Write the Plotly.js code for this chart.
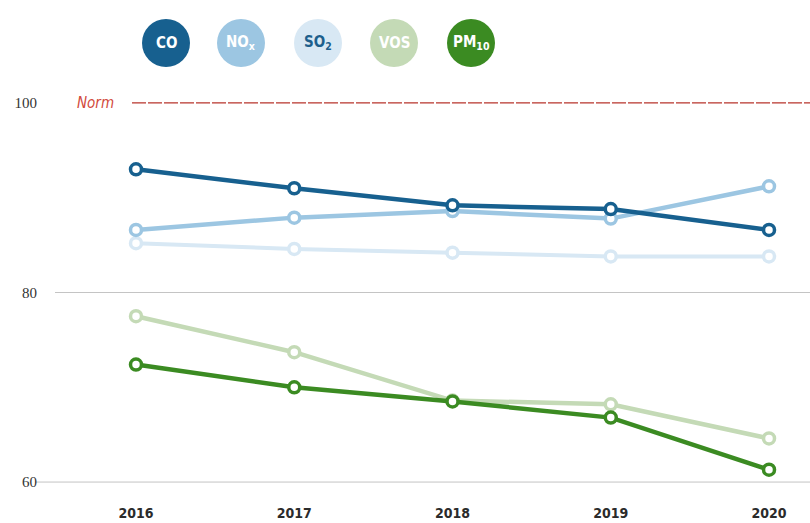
<!DOCTYPE html>
<html>
<head>
<meta charset="utf-8">
<script src="https://cdn.plot.ly/plotly-3.0.1.min.js"></script>
<style>html,body{margin:0;padding:0;background:#fff;}#chart{width:810px;height:523px;}</style>
</head>
<body>
<div id="chart"></div>
<script>
// ---- data ----
const years = ["2016", "2017", "2018", "2019", "2020"];
const co   = [93.0, 91.0, 89.2, 88.8, 86.6];
const nox  = [86.6, 87.9, 88.6, 87.8, 91.2];
const so2  = [85.2, 84.6, 84.2, 83.8, 83.8];
const vos  = [77.5, 73.7, 68.6, 68.2, 64.6];
const pm10 = [72.4, 70.0, 68.5, 66.8, 61.3];
const seriesNames = ["CO", "NO<sub>x</sub>", "SO<sub>2</sub>", "VOS", "PM<sub>10</sub>"];
const yTicks = [60, 80, 100];
const normValue = 100;
const normLabel = "Norm";

// ---- styles ----
const colors = {
  co: "#17608f", nox: "#9cc6e2", so2: "#d8e8f4", vos: "#c4dab6", pm10: "#3b8b22"
};
const textColors = ["#ffffff", "#ffffff", "#1d5f8c", "#ffffff", "#ffffff"];
const legendColors = [colors.co, colors.nox, colors.so2, colors.vos, colors.pm10];
const font = "'Liberation Sans Narrow', 'DejaVu Sans Condensed', sans-serif";

function tr(name, y, color, w) {
  return {
    x: years, y: y, name: name, type: "scatter", mode: "lines+markers",
    line: {color: color, width: w},
    marker: {symbol: "circle", size: 11, color: "#ffffff", line: {color: color, width: 3.5}},
    hoverinfo: "x+y+name"
  };
}
const data = [
  tr("SO2", so2, colors.so2, 4),
  tr("NOx", nox, colors.nox, 4.5),
  tr("CO", co, colors.co, 4.5),
  tr("VOS", vos, colors.vos, 4.5),
  tr("PM10", pm10, colors.pm10, 4.5)
];

// plot geometry
const L = 40, R = 0, T = 84, B = 22, W = 810, H = 523;
const pw = W - L - R, ph = H - T - B;
const px2x = p => (p - L) / pw;
const py2y = p => 1 - (p - T) / ph;

const legendCx = [166, 241, 318, 394, 471];
const legendCy = 43;
const shapes = [];
const annotations = [];
legendCx.forEach((cx, i) => {
  shapes.push({
    type: "circle", xref: "paper", yref: "paper",
    xsizemode: "pixel", ysizemode: "pixel",
    xanchor: px2x(cx), yanchor: py2y(legendCy),
    x0: -24, x1: 24, y0: -24, y1: 24,
    fillcolor: legendColors[i], line: {width: 0}, layer: "above"
  });
  annotations.push({
    xref: "paper", yref: "paper", x: px2x(cx), y: py2y(legendCy),
    text: "<b>" + seriesNames[i] + "</b>", showarrow: false,
    font: {family: font, size: 15, color: textColors[i]},
    xanchor: "center", yanchor: "middle"
  });
});

// gridlines
shapes.push({type: "line", xref: "paper", yref: "y", x0: px2x(55), x1: 1, y0: 80, y1: 80,
  line: {color: "#c4c4c4", width: 1}, layer: "below"});
shapes.push({type: "line", xref: "paper", yref: "y", x0: px2x(35), x1: 1, y0: 60, y1: 60,
  line: {color: "#c4c4c4", width: 1}, layer: "below"});
// norm line
shapes.push({type: "line", xref: "paper", yref: "y", x0: px2x(132), x1: 1, y0: normValue, y1: normValue,
  line: {color: "#b8342c", width: 1.3, dash: "14px,2px"}, layer: "below"});
annotations.push({
  xref: "paper", yref: "y", x: px2x(95), y: normValue, text: "<i>" + normLabel + "</i>",
  showarrow: false, font: {family: font, size: 15, color: "#d24a3c"},
  xanchor: "center", yanchor: "middle"
});

const layout = {
  width: W, height: H,
  margin: {l: L, r: R, t: T, b: B, pad: 0},
  paper_bgcolor: "#ffffff", plot_bgcolor: "#ffffff",
  showlegend: false,
  font: {family: font, color: "#333333"},
  xaxis: {
    type: "category", range: [-0.6066, 4.259],
    showgrid: false, zeroline: false, showline: false, ticks: "",
    tickfont: {family: font, size: 14, color: "#2b2b2b", weight: "bold"},
    ticklabelstandoff: 2,
    fixedrange: true
  },
  yaxis: {
    range: [58, 102], tickvals: yTicks, ticktext: yTicks.map(String),
    showgrid: false, zeroline: false, showline: false, ticks: "",
    tickfont: {family: "'Liberation Serif', serif", size: 15, color: "#333333"},
    ticklabelstandoff: 2,
    fixedrange: true
  },
  shapes: shapes,
  annotations: annotations
};

Plotly.newPlot("chart", data, layout, {displayModeBar: false, staticPlot: true});
</script>
</body>
</html>
